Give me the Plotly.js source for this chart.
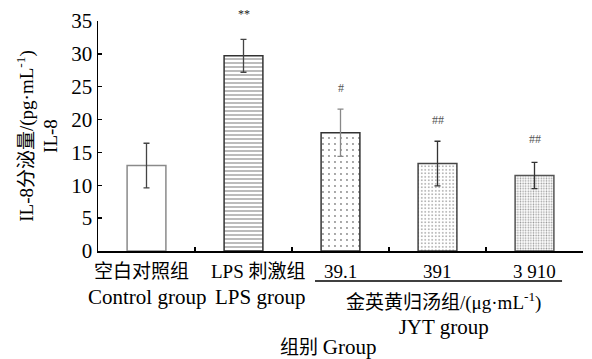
<!DOCTYPE html>
<html><head><meta charset="utf-8">
<script src="https://cdn.plot.ly/plotly-3.0.1.min.js"></script>
<style>html,body{margin:0;padding:0;background:#fff}#chart{width:592px;height:359px}</style>
</head><body><div id="chart"></div>
<script>
// Data
const categories = ['空白对照组', 'LPS 刺激组', '39.1', '391', '3 910'];
const labelEN = ['Control group', 'LPS group', '', '', ''];
const means = [13.0, 29.7, 18.0, 13.3, 11.5];
const errors = [3.4, 2.5, 3.6, 3.4, 2.0];
const signif = ['', '**', '#', '##', '##'];
const yTicks = [0, 5, 10, 15, 20, 25, 30, 35];

// Styles (per bar)
const patShape = ['', '-', '.', '.', '.'];
const patSize = [8, 4, 6, 3.5, 2.6];
const patSolid = [0.2, 0.22, 0.08, 0.14, 0.28];
const patFg = ['#fff', '#666', '#888', '#777', '#999'];
const lineCol = ['#8a8a8a', '#333', '#333', '#444', '#555'];
const errCol = ['#444', '#444', '#888', '#333', '#333'];
const labelShift = [-5, 15, 0, 0, 0];
const sigShift = [0, 16, 12, 12, 14];

const FONT = 'Liberation Serif, Times New Roman, Noto Sans CJK SC, serif';

const traces = categories.map((c, i) => ({
  type: 'bar',
  x: [c],
  y: [means[i]],
  width: 0.4,
  marker: {
    color: '#fff',
    line: {color: lineCol[i], width: 1.5},
    pattern: {shape: patShape[i], size: patSize[i], solidity: patSolid[i], fgcolor: patFg[i], bgcolor: '#fff'}
  },
  error_y: {type: 'data', array: [errors[i]], visible: true, color: errCol[i], thickness: 1.3, width: 3},
  showlegend: false,
  hoverinfo: 'skip'
}));

const pxToPaper = p => (251 - p) / 230;

const annotations = [];
categories.forEach((c, i) => {
  annotations.push({x: i, xref: 'x', y: pxToPaper(271), yref: 'paper', text: c, showarrow: false,
    xshift: labelShift[i], yanchor: 'middle', borderpad: 0, font: {family: FONT, size: 19, color: '#000'}});
  if (labelEN[i]) annotations.push({x: i, xref: 'x', y: pxToPaper(297), yref: 'paper', text: labelEN[i], showarrow: false,
    xshift: labelShift[i] + (i === 0 ? 5 : 1), yanchor: 'middle', borderpad: 0, font: {family: FONT, size: 21, color: '#000'}});
  if (signif[i]) annotations.push({x: i, xref: 'x', y: means[i] + errors[i], yref: 'y', text: signif[i], showarrow: false,
    yanchor: 'bottom', yshift: sigShift[i], font: {family: FONT, size: 12, color: i === 1 ? '#222' : '#555'}});
});
annotations.push({x: 3, xref: 'x', y: pxToPaper(314), yref: 'paper',
  text: '金英黄归汤组/(μg·mL<sup>-1</sup>)<br><span style="font-size:21px">JYT group</span>', showarrow: false,
  xshift: 6, yanchor: 'middle', borderpad: 0, font: {family: FONT, size: 19, color: '#000'}});
annotations.push({x: 0.475, xref: 'paper', y: pxToPaper(347), yref: 'paper', text: '组别 <span style="font-size:21px">Group</span>', showarrow: false,
  yanchor: 'middle', borderpad: 0, font: {family: FONT, size: 19, color: '#000'}});

const layout = {
  width: 592, height: 359,
  margin: {l: 98, r: 9, t: 21, b: 108},
  paper_bgcolor: '#fff', plot_bgcolor: '#fff',
  barmode: 'overlay',
  font: {family: FONT, size: 19, color: '#000'},
  xaxis: {
    type: 'category', categoryorder: 'array', categoryarray: categories,
    range: [-0.5, 4.5], showline: true, linecolor: '#000', linewidth: 1.5,
    ticks: 'inside', ticklen: 4, tickcolor: '#000', tickwidth: 1.5, tickson: 'boundaries',
    showticklabels: false, showgrid: false, zeroline: false, fixedrange: true
  },
  yaxis: {
    range: [0, 35], tickmode: 'array', tickvals: yTicks, ticktext: yTicks.map(String),
    showline: true, linecolor: '#000', linewidth: 1.5,
    ticks: 'inside', ticklen: 4, tickcolor: '#000', tickwidth: 1.5,
    showgrid: false, zeroline: false, fixedrange: true,
    tickfont: {family: FONT, size: 21, color: '#000'},
    title: {text: 'IL-8分泌量/(pg·mL<sup>-1</sup>)<br>IL-8', font: {family: FONT, size: 19, color: '#000'}, standoff: 8}
  },
  shapes: [{type: 'line', xref: 'x', yref: 'paper', x0: 1.737, x1: 4.284, y0: pxToPaper(281), y1: pxToPaper(281),
    line: {color: '#000', width: 1.5}}],
  annotations: annotations
};

Plotly.newPlot('chart', traces, layout, {staticPlot: true, displayModeBar: false});
</script></body></html>
